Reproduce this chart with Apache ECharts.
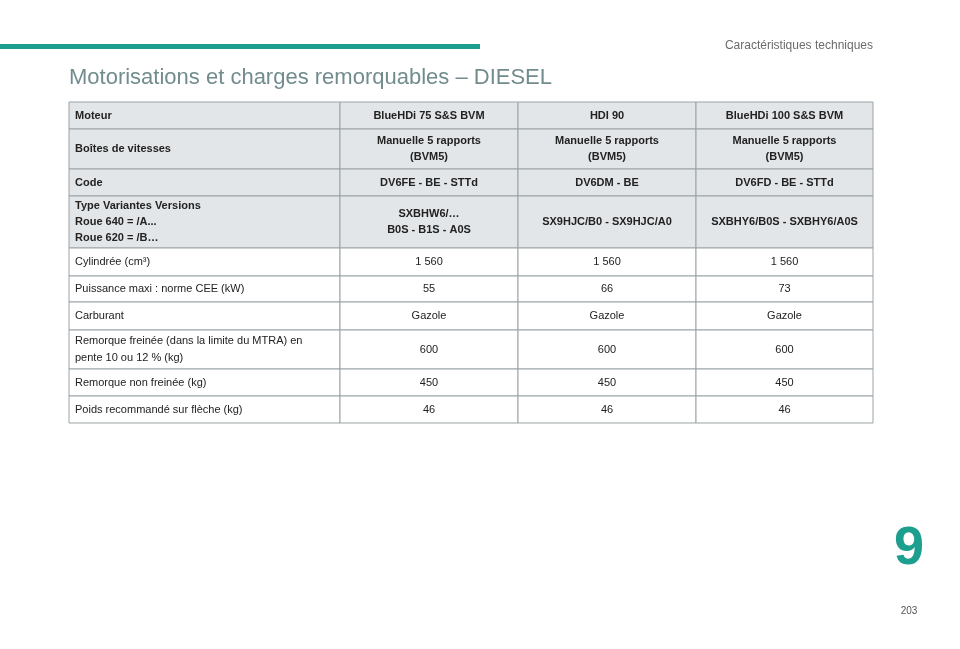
<!doctype html>
<html>
<head>
<meta charset="utf-8">
<script src="https://cdn.jsdelivr.net/npm/echarts@6/dist/echarts.min.js"></script>
<style>
* { margin:0; padding:0; }
#chart { width:960px; height:649px; background:#fff; }
</style>
</head>
<body>
<div id="chart"></div>
<script>
// table content
var rowLabels = ['Moteur', 'Boîtes de vitesses', 'Code', 'Type Variantes Versions\nRoue 640 = /A...\nRoue 620 = /B…',
	'Cylindrée (cm³)', 'Puissance maxi : norme CEE (kW)', 'Carburant',
	'Remorque freinée (dans la limite du MTRA) en\npente 10 ou 12 % (kg)', 'Remorque non freinée (kg)', 'Poids recommandé sur flèche (kg)'];
var col1 = ['BlueHDi 75 S&S BVM', 'Manuelle 5 rapports\n(BVM5)', 'DV6FE - BE - STTd', 'SXBHW6/…\nB0S - B1S - A0S', '1 560', '55', 'Gazole', '600', '450', '46'];
var col2 = ['HDI 90', 'Manuelle 5 rapports\n(BVM5)', 'DV6DM - BE', 'SX9HJC/B0 - SX9HJC/A0', '1 560', '66', 'Gazole', '600', '450', '46'];
var col3 = ['BlueHDi 100 S&S BVM', 'Manuelle 5 rapports\n(BVM5)', 'DV6FD - BE - STTd', 'SXBHY6/B0S - SXBHY6/A0S', '1 560', '73', 'Gazole', '600', '450', '46'];
var boldRows = 4; // first rows with grey header styling

// layout
var colEdges = [69, 340, 518, 696, 873];
var rowEdges = [102, 129, 169, 196, 248, 276, 302, 330, 369, 396, 423];

var myChart = echarts.init(document.getElementById('chart'));
var cols = [rowLabels, col1, col2, col3];
var els = [];

// header band and page furniture
els.push({ type:'rect', shape:{ x:0, y:44, width:480, height:5 }, style:{ fill:'#1d9f8f' } });
els.push({ type:'text', style:{ x:873, y:46, text:'Caractéristiques techniques', fill:'#6b6b6b', font:'12px "Liberation Sans", Arial', align:'right', verticalAlign:'middle' } });
els.push({ type:'text', style:{ x:69, y:78, text:'Motorisations et charges remorquables – DIESEL', fill:'#728c8e', font:'22px "Liberation Sans", Arial', verticalAlign:'middle' } });
els.push({ type:'text', style:{ x:909, y:549, text:'9', fill:'#1d9f8f', font:'bold 54px "Liberation Sans", Arial', align:'center', verticalAlign:'middle' } });
els.push({ type:'text', style:{ x:909, y:611, text:'203', fill:'#555', font:'10px "Liberation Sans", Arial', align:'center', verticalAlign:'middle' } });

for (var r = 0; r < rowLabels.length; r++) {
	var y0 = rowEdges[r], h = rowEdges[r + 1] - y0;
	var head = r < boldRows;
	for (var c = 0; c < cols.length; c++) {
		var x0 = colEdges[c], w = colEdges[c + 1] - x0;
		els.push({ type:'rect', shape:{ x:x0, y:y0, width:w, height:h },
			style:{ fill: head ? '#e3e6e8' : '#fff', stroke:'#9aa3a6', lineWidth:1 } });
		els.push({ type:'text', style:{
			x: c === 0 ? x0 + 6 : x0 + w / 2, y: y0 + h / 2,
			text: cols[c][r], fill:'#222', lineHeight: head ? 16 : 17,
			font: (head ? 'bold ' : '') + '11px "Liberation Sans", Arial',
			align: c === 0 ? 'left' : 'center', verticalAlign:'middle' } });
	}
}

myChart.setOption({ animation:false, graphic:{ elements: els } });
</script>
</body>
</html>
